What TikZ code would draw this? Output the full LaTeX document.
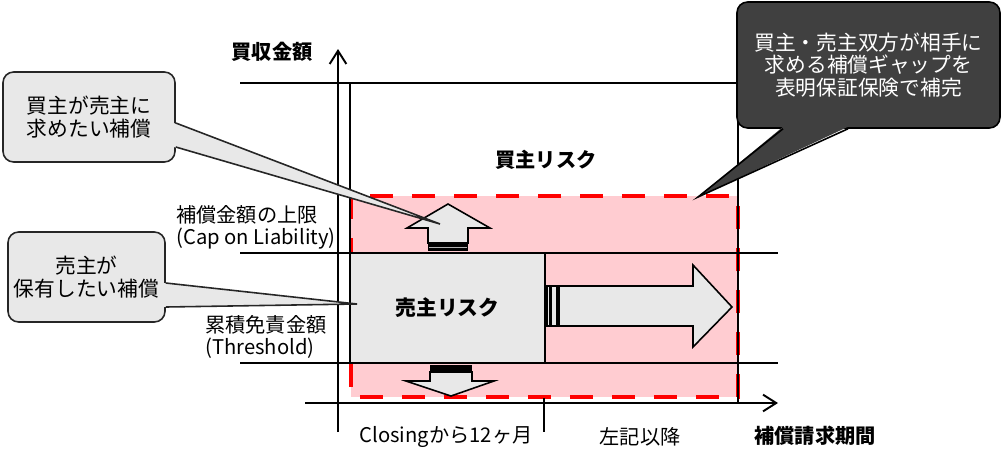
\documentclass[tikz,border=0pt]{standalone}
\usepackage{fontspec}
\setmainfont{Noto Sans CJK JP}
\usetikzlibrary{arrows.meta,calc}

\definecolor{bubblegray}{HTML}{E8E8E8}
\definecolor{riskpink}{HTML}{FFCCD1}
\definecolor{bubbledark}{HTML}{404040}
\definecolor{riskred}{HTML}{FF0000}

\tikzset{
  axis/.style={line width=1.1pt, -{Straight Barb[length=7.5pt,width=9.5pt]}},
  guide/.style={line width=1pt},
  bubble/.style={draw=black!85, line width=0.9pt, fill=bubblegray, rounded corners=6pt,
    align=center, inner sep=0pt, font=\fontsize{11.8pt}{13pt}\selectfont},
  darkbubble/.style={bubble, fill=bubbledark, draw=black, text=white},
  bigarrow/.style={draw=black, line width=0.9pt, fill=bubblegray, line join=miter},
  txt/.style={inner sep=0pt, align=left, font=\fontsize{11.5pt}{12.5pt}\selectfont},
  title/.style={txt, font=\fontsize{11.5pt}{12.5pt}\selectfont\bfseries},
}

\begin{document}
\begin{tikzpicture}[x=0.02cm, y=-0.02cm]
	\useasboundingbox (0,0) rectangle (1003,464);

	% buyer risk area
	\fill [riskpink] (351,196) rectangle (738,397);
	\draw [riskred, line width=2.8pt, dash pattern=on 0.46cm off 0.38cm] (351,196) rectangle (738,397);

	% guide lines
	\draw [guide] (240,83) -- (738,83);
	\draw [guide] (240,253) -- (778,253);
	\draw [guide] (240,363) -- (778,363);
	\draw [guide] (350,83) -- (350,253);
	\draw [guide] (738,83) -- (738,403);

	% axes
	\coordinate (ybot) at (338,432);
	\coordinate (ytop) at (338,49);
	\coordinate (xleft) at (305,403);
	\coordinate (xright) at (778,403);
	\draw [axis] (ybot) -- (ytop);
	\draw [axis] (xleft) -- (xright);
	\draw [guide] (544,398) -- (544,432);

	\node[title] (yname) at (272,52) {買収金額};
	\node[title] (xname) at (815,436) {補償請求期間};
	\node[txt] (period1) at (446,437) {Closingから12ヶ月};
	\node[txt] (period2) at (640,437) {左記以降};
	\node[title] (buyerrisk) at (546,160) {買主リスク};
	\node[txt, anchor=west] (caplabel) at (176,227.5) {補償金額の上限\\(Cap on Liability)};
	\node[txt, anchor=west] (thrlabel) at (205,336.5) {累積免責金額\\(Threshold)};

	% seller risk box
	\node[draw=black, line width=0.9pt, fill=bubblegray, minimum width=3.9cm, minimum height=2.2cm,
		font=\fontsize{11.8pt}{13pt}\selectfont\bfseries] (sellerrisk) at (447.5,308) {売主リスク};

	% arrows
	\draw [bigarrow] (428,243) -- (428,228) -- (407,228) -- (448,204) -- (490,228) -- (468,228) -- (468,243) -- cycle;
	\fill [black] (428,244) rectangle (468,251);
	\draw [gray!60, line width=0.5pt] (429,247) -- (467,247);

	\draw [bigarrow] (430,372) -- (430,381) -- (406,381) -- (451,396) -- (494,381) -- (472,381) -- (472,372) -- cycle;
	\fill [black] (430,365) rectangle (472,372);

	\draw [bigarrow] (559,286) -- (693,286) -- (693,265) -- (732,307) -- (693,347) -- (693,326) -- (559,326) -- cycle;
	\draw [bigarrow] (547,286) rectangle (550,326);
	\draw [bigarrow] (551.5,286) rectangle (557,326);

	% callouts
	\node[bubble, minimum width=3.44cm, minimum height=1.8cm] (buyerwant) at (89,117) {買主が売主に\\求めたい補償};
	\coordinate (buyertip) at (440,224);
	\fill [bubblegray] ($(buyerwant.east)+(-2,6)$) -- (buyertip) -- ($(buyerwant.east)+(-2,30)$) -- cycle;
	\draw [black!85, line width=0.9pt] ($(buyerwant.east)+(0,6)$) -- (buyertip) -- ($(buyerwant.east)+(0,30)$);

	\node[bubble, minimum width=3.14cm, minimum height=1.8cm] (sellerwant) at (86.5,277) {売主が\\保有したい補償};
	\coordinate (sellertip) at (357,304);
	\fill [bubblegray] ($(sellerwant.east)+(-2,6)$) -- (sellertip) -- ($(sellerwant.east)+(-2,30)$) -- cycle;
	\draw [black!85, line width=0.9pt] ($(sellerwant.east)+(0,6)$) -- (sellertip) -- ($(sellerwant.east)+(0,30)$);

	\node[darkbubble, minimum width=5.26cm, minimum height=2.52cm] (gapnote) at (868.5,65) {買主・売主双方が相手に\\求める補償ギャップを\\表明保証保険で補完};
	\coordinate (gaptip) at (698,197);
	\fill [bubbledark] ($(gapnote.south)+(-85.5,-2)$) -- (gaptip) -- ($(gapnote.south)+(-20.5,-2)$) -- cycle;
	\draw [black, line width=0.9pt] ($(gapnote.south)+(-85.5,0)$) -- (gaptip) -- ($(gapnote.south)+(-20.5,0)$);
\end{tikzpicture}
\end{document}
